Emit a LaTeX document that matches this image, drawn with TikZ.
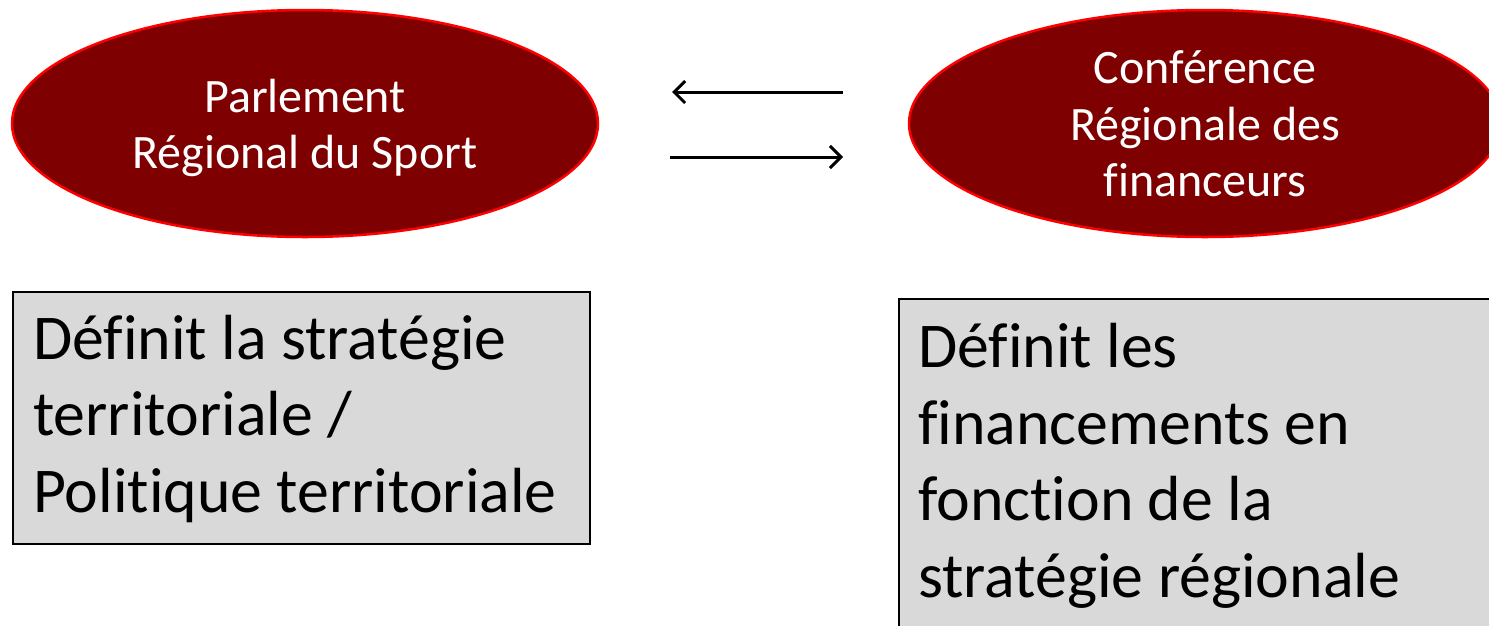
\documentclass[tikz,border=0pt]{standalone}
\usepackage{fontspec}
\setmainfont{Carlito}[Ligatures={NoCommon}]
\usetikzlibrary{shapes.geometric,arrows.meta}
\definecolor{darkred}{RGB}{127,0,0}
\definecolor{boxgray}{RGB}{217,217,217}
\begin{document}
\begin{tikzpicture}[x=1pt,y=-1pt,
  oval/.style={ellipse,draw=red,line width=2.5pt,fill=darkred,inner sep=0pt},
  ovaltext/.style={text=white,align=center,inner sep=0pt,font=\fontsize{48}{56.5}\selectfont},
  panel/.style={rectangle,draw=black,line width=2.2pt,fill=boxgray,inner sep=0pt,anchor=north west},
  paneltext/.style={anchor=base west,align=left,inner sep=0pt,font=\fontsize{63.8}{76.5}\selectfont},
  link/.style={line width=3pt,-{Straight Barb[length=11pt,width=22pt,line width=3pt]}}]
\useasboundingbox (0,0) rectangle (1489,625);
\clip (0,0) rectangle (1489,625);
\node[oval,minimum width=586pt,minimum height=227pt] (parl) at (305,123.5) {};
\node[ovaltext] (parlt) at (305,128) {Parlement\\Régional du Sport};
\node[oval,minimum width=592pt,minimum height=227pt] (conf) at (1205,123.5) {};
\node[ovaltext] (conft) at (1205,124) {Conférence\\Régionale des\\financeurs};
\coordinate (a1s) at (843,92);
\coordinate (a1e) at (672,92);
\coordinate (a2s) at (670,157);
\coordinate (a2e) at (843,157);
\draw[link] (a1s) -- (a1e);
\draw[link] (a2s) -- (a2e);
\node[panel,minimum width=577pt,minimum height=252pt] (lbox) at (12,291) {};
\node[panel,minimum width=620pt,minimum height=360pt] (rbox) at (898,298) {};
\node[paneltext] (ltext) at (33,512) {Définit la stratégie\\territoriale /\\Politique territoriale};
\node[paneltext] (rtext) at (918,597) {Définit les\\financements en\\fonction de la\\stratégie régionale};
\end{tikzpicture}
\end{document}
